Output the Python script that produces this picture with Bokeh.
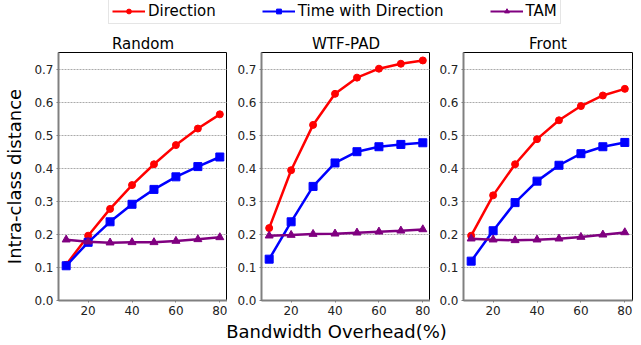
from bokeh.plotting import figure
from bokeh.layouts import column, row
from bokeh.models import (Range1d, FixedTicker, PrintfTickFormatter, Legend, LegendItem,
                          ColumnDataSource, Label)
from bokeh.embed import file_html
from bokeh.resources import INLINE

overhead = [10, 20, 30, 40, 50, 60, 70, 80]
panels = ["Random", "WTF-PAD", "Front"]

direction = {
    "Random":  [0.108, 0.196, 0.277, 0.349, 0.412, 0.470, 0.520, 0.563],
    "WTF-PAD": [0.219, 0.394, 0.531, 0.625, 0.674, 0.701, 0.716, 0.726],
    "Front":   [0.196, 0.318, 0.412, 0.488, 0.545, 0.588, 0.620, 0.640],
}
time_with_direction = {
    "Random":  [0.105, 0.176, 0.238, 0.291, 0.336, 0.374, 0.405, 0.434],
    "WTF-PAD": [0.125, 0.238, 0.345, 0.416, 0.450, 0.465, 0.472, 0.477],
    "Front":   [0.119, 0.211, 0.296, 0.361, 0.409, 0.444, 0.465, 0.478],
}
tam = {
    "Random":  [0.184, 0.178, 0.175, 0.176, 0.176, 0.180, 0.185, 0.191],
    "WTF-PAD": [0.196, 0.198, 0.201, 0.202, 0.205, 0.208, 0.211, 0.215],
    "Front":   [0.187, 0.184, 0.182, 0.184, 0.187, 0.192, 0.199, 0.206],
}
y_ticks = [0.0, 0.1, 0.2, 0.3, 0.4, 0.5, 0.6, 0.7]
x_ticks = [20, 40, 60, 80]
x_label = "Bandwidth Overhead(%)"
y_label = "Intra-class distance"

FONT = "DejaVu Sans"
RED, BLUE, PURPLE = "#ff0000", "#0000ff", "#800080"

borders = [(58, 0), (34, 0), (33, 9)]
figs = []
for i, name in enumerate(panels):
    lb, rb = borders[i]
    p = figure(frame_width=169, frame_height=248, min_border_left=lb, min_border_right=rb,
               min_border_top=22, min_border_bottom=20,
               x_range=Range1d(6.5, 83.5), y_range=Range1d(0, 0.75),
               output_backend="svg", toolbar_location=None, title=name)
    p.title.align = "center"
    p.title.text_font = FONT
    p.title.text_font_size = "15px"
    p.title.text_font_style = "normal"
    p.title.text_color = "#000000"
    p.title.standoff = 0
    p.title.offset = 0
    p.outline_line_color = "#000000"
    p.outline_line_width = 1
    p.xgrid.grid_line_color = None
    p.ygrid.ticker = FixedTicker(ticks=y_ticks)
    p.ygrid.grid_line_color = "#aaaaaa"
    p.ygrid.grid_line_dash = "2 1"
    p.ygrid.grid_line_width = 1
    p.xaxis.ticker = FixedTicker(ticks=x_ticks)
    p.yaxis.ticker = FixedTicker(ticks=y_ticks)
    p.yaxis.formatter = PrintfTickFormatter(format="%.1f")
    for ax in (p.xaxis[0], p.yaxis[0]):
        ax.major_label_text_font = FONT
        ax.major_label_text_font_size = "12px"
        ax.major_label_text_color = "#222222"
        ax.major_tick_out = 2
        ax.major_tick_in = 0
        ax.minor_tick_out = 0
        ax.minor_tick_in = 0
        ax.major_label_standoff = 3
        ax.axis_line_color = "#808080"
        ax.axis_line_width = 2
        ax.major_tick_line_color = "#808080"
        ax.axis_label_text_font = FONT
        ax.axis_label_text_font_size = "18px"
        ax.axis_label_text_font_style = "normal"
        ax.axis_label_text_color = "#000000"
    if i == 0:
        p.yaxis.axis_label = y_label
        p.yaxis.axis_label_standoff = 6

    src = ColumnDataSource(dict(x=overhead, d=direction[name], t=time_with_direction[name], m=tam[name]))
    p.line("x", "d", source=src, color=RED, line_width=2.5)
    p.scatter("x", "d", source=src, marker="circle", size=7, color=RED)
    p.line("x", "t", source=src, color=BLUE, line_width=2.5)
    p.scatter("x", "t", source=src, marker="square", size=8, color=BLUE)
    p.line("x", "m", source=src, color=PURPLE, line_width=2.5)
    p.scatter("x", "m", source=src, marker="triangle", size=8, color=PURPLE)
    figs.append(p)

# legend strip (dummy renderers kept outside the visible range)
lg = figure(width=641, height=30, min_border=0, x_range=Range1d(0, 1), y_range=Range1d(0, 1),
            x_axis_type=None, y_axis_type=None, output_backend="svg", toolbar_location=None)
lg.outline_line_color = None
lg.grid.grid_line_color = None
dummy = ColumnDataSource(dict(x=[-5, -6], y=[-5, -6]))
items = []
for label, col, mk, sz in [("Direction", RED, "circle", 5), ("Time with Direction", BLUE, "square", 6),
                           ("TAM", PURPLE, "triangle", 7)]:
    r1 = lg.line("x", "y", source=dummy, color=col, line_width=2)
    r2 = lg.scatter("x", "y", source=dummy, marker=mk, size=sz, color=col)
    items.append(LegendItem(label=label, renderers=[r1, r2]))
leg = Legend(items=items, orientation="horizontal", location=(108, 6),
             label_text_font=FONT, label_text_font_size="15px", label_text_color="#000000",
             glyph_width=33, glyph_height=12, label_height=18, label_standoff=3,
             spacing=46, padding=3, margin=0,
             border_line_color="#cccccc", border_line_width=1, background_fill_alpha=0.8)
lg.add_layout(leg)

# x-axis label strip
xl = figure(width=641, height=25, min_border=0, x_range=Range1d(0, 1), y_range=Range1d(0, 1),
            x_axis_type=None, y_axis_type=None, output_backend="svg", toolbar_location=None)
xl.outline_line_color = None
xl.grid.grid_line_color = None
xl.add_layout(Label(x=336, y=25, x_units="screen", y_units="screen", text=x_label,
                    text_font=FONT, text_font_size="18px", text_color="#000000",
                    text_align="center", text_baseline="top"))

layout = column(lg, row(*figs, spacing=0), xl, spacing=0)
open("out.html", "w").write(file_html(layout, INLINE))
